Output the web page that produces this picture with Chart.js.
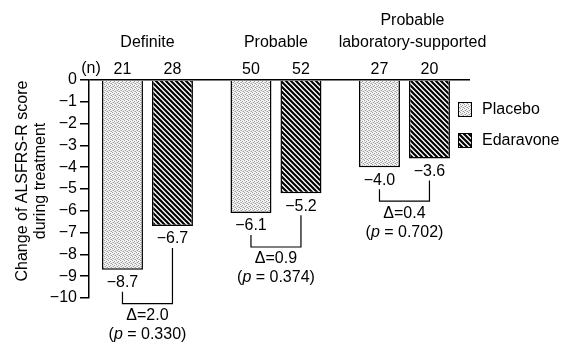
<!DOCTYPE html>
<html>
<head>
<meta charset="utf-8">
<script src="https://cdn.jsdelivr.net/npm/chart.js@4"></script>
<style>
  body { margin: 0; background: #fff; }
  #wrap { width: 566px; height: 345px; position: relative; }
</style>
</head>
<body>
<div id="wrap"><canvas id="edaChart"></canvas></div>
<script>
const groups = [["Definite"], ["Probable"], ["Probable", "laboratory-supported"]];
const nPlacebo = [21, 50, 27];
const nEdaravone = [28, 52, 20];
const placebo = [-8.7, -6.1, -4.0];
const edaravone = [-6.7, -5.2, -3.6];
const deltas = ["2.0", "0.9", "0.4"];
const pValues = ["0.330", "0.374", "0.702"];
const yTitle = ["Change of ALSFRS-R score", "during treatment"];

const FAMILY = '"Liberation Sans", Arial, sans-serif';

function minus(v) {
  return v < 0 ? "\u2212" + Math.abs(v).toFixed(1) : v.toFixed(1);
}

function stipplePattern(ctx) {
  const c = document.createElement("canvas");
  c.width = 4;
  c.height = 4;
  const g = c.getContext("2d");
  g.fillStyle = "#f4f4f4";
  g.fillRect(0, 0, 4, 4);
  g.fillStyle = "#9c9c9c";
  [[0, 0], [2, 1], [1, 2], [3, 3]].forEach(p => g.fillRect(p[0], p[1], 1, 1));
  g.fillStyle = "#cfcfcf";
  [[2, 3], [0, 2]].forEach(p => g.fillRect(p[0], p[1], 1, 1));
  return ctx.createPattern(c, "repeat");
}

function hatchPattern(ctx) {
  const s = 5;
  const c = document.createElement("canvas");
  c.width = s;
  c.height = s;
  const g = c.getContext("2d");
  g.fillStyle = "#fff";
  g.fillRect(0, 0, s, s);
  g.strokeStyle = "#000";
  g.lineWidth = 2.2;
  g.beginPath();
  for (let k = -1; k <= 1; k++) {
    g.moveTo(k * s - 1, -1);
    g.lineTo(k * s + s + 1, s + 1);
  }
  g.stroke();
  return ctx.createPattern(c, "repeat");
}

const annotations = {
  id: "annotations",
  afterDraw(chart) {
    const ctx = chart.ctx;
    const x = chart.scales.x;
    const mp = chart.getDatasetMeta(0).data;
    const me = chart.getDatasetMeta(1).data;
    const font = "16px " + FAMILY;
    ctx.save();
    ctx.fillStyle = "#000";
    ctx.strokeStyle = "#000";
    ctx.font = font;
    ctx.textAlign = "center";
    ctx.textBaseline = "middle";

    // group titles and n
    groups.forEach((lines, i) => {
      const cx = x.getPixelForValue(i) + (lines.length > 1 ? 8 : 0);
      lines.forEach((t, j) => {
        ctx.fillText(t, cx, 43 - (lines.length - 1 - j) * 22);
      });
      ctx.fillText(String(nPlacebo[i]), mp[i].x, 70);
      ctx.fillText(String(nEdaravone[i]), me[i].x, 70);
    });
    ctx.fillText("(n)", 91, 69);

    // values, brackets, deltas
    groups.forEach((_, i) => {
      const pb = mp[i];
      const eb = me[i];
      ctx.textBaseline = "top";
      ctx.fillText(minus(placebo[i]), pb.x, pb.y + 5);
      ctx.fillText(minus(edaravone[i]), eb.x, eb.y + 5);

      const yb = pb.y + 34;
      ctx.lineWidth = 1.2;
      ctx.beginPath();
      ctx.moveTo(pb.x, pb.y + 22);
      ctx.lineTo(pb.x, yb);
      ctx.lineTo(eb.x, yb);
      ctx.lineTo(eb.x, eb.y + 22);
      ctx.stroke();

      const mid = (pb.x + eb.x) / 2;
      ctx.textBaseline = "middle";
      ctx.fillText("\u0394=" + deltas[i], mid, yb + 12);

      const parts = [["(", false], ["p", true], [" = " + pValues[i] + ")", false]];
      let w = 0;
      parts.forEach(pt => {
        ctx.font = (pt[1] ? "italic " : "") + font;
        w += ctx.measureText(pt[0]).width;
      });
      let px = mid - w / 2;
      ctx.textAlign = "left";
      parts.forEach(pt => {
        ctx.font = (pt[1] ? "italic " : "") + font;
        ctx.fillText(pt[0], px, yb + 31);
        px += ctx.measureText(pt[0]).width;
      });
      ctx.font = font;
      ctx.textAlign = "center";
    });

    // legend
    chart.data.datasets.forEach((ds, i) => {
      const by = 102 + i * 31;
      ctx.fillStyle = ds.backgroundColor;
      ctx.fillRect(458, by, 13, 14);
      ctx.lineWidth = 1;
      ctx.strokeRect(458.5, by + 0.5, 13, 14);
      ctx.fillStyle = "#000";
      ctx.textAlign = "left";
      ctx.fillText(ds.label, 482, by + 8);
    });

    // y title
    ctx.font = "16px " + FAMILY;
    ctx.textAlign = "center";
    ctx.translate(0, 181);
    ctx.rotate(-Math.PI / 2);
    yTitle.forEach((t, j) => ctx.fillText(t, 0, 23 + j * 18));
    ctx.restore();
  }
};

document.addEventListener("DOMContentLoaded", function () {
  const canvas = document.getElementById("edaChart");
  const ctx = canvas.getContext("2d");

  new Chart(ctx, {
    type: "bar",
    data: {
      datasets: [
        {
          label: "Placebo",
          data: placebo.map((v, i) => ({ x: i, y: v })),
          backgroundColor: stipplePattern(ctx),
          borderColor: "#000",
          borderWidth: 1.5,
          categoryPercentage: 0.778,
          barPercentage: 0.82
        },
        {
          label: "Edaravone",
          data: edaravone.map((v, i) => ({ x: i, y: v })),
          backgroundColor: hatchPattern(ctx),
          borderColor: "#000",
          borderWidth: 1.5,
          categoryPercentage: 0.778,
          barPercentage: 0.82
        }
      ]
    },
    options: {
      responsive: true,
      maintainAspectRatio: false,
      animation: false,
      layout: { padding: { top: 80, right: 96, bottom: 47, left: 0 } },
      scales: {
        x: {
          type: "linear",
          min: -0.455,
          max: 2.51,
          offset: false,
          bounds: "data",
          grid: { offset: false },
          display: false,
          afterBuildTicks: s => {
            s.ticks = placebo.map((v, i) => ({ value: i }));
          }
        },
        y: {
          min: -10,
          max: 0,
          ticks: {
            stepSize: 1,
            autoSkip: false,
            color: "#000",
            padding: 3,
            font: { family: FAMILY, size: 16 },
            callback: v => (v === 0 ? "0" : "\u2212" + Math.abs(v))
          },
          grid: {
            color: c => (c.tick && c.tick.value === 0 ? "#000" : "rgba(0,0,0,0)"),
            tickColor: "#000",
            tickLength: 9,
            lineWidth: 1.5
          },
          border: { color: "#000", width: 1.5 },
          afterFit: s => {
            s.width = 89;
          }
        }
      },
      plugins: {
        legend: { display: false },
        tooltip: { enabled: false }
      }
    },
    plugins: [annotations]
  });
});
</script>
</body>
</html>
